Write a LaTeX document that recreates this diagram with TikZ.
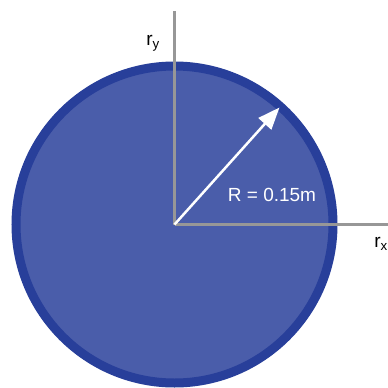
\documentclass[tikz,border=0pt]{standalone}
\usepackage{fontspec}
\setmainfont{Liberation Sans}
\usetikzlibrary{arrows.meta}
\definecolor{DiscFill}{HTML}{4A5DAA}
\definecolor{DiscRim}{HTML}{283F9A}
\definecolor{AxisGray}{HTML}{979797}

\begin{document}
\begin{tikzpicture}[
  x=1pt, y=-1pt,
  disc/.style={draw=DiscRim, fill=DiscFill, line width=9pt},
  axis/.style={draw=AxisGray, line width=2.2pt},
  radius arrow/.style={-{Triangle[length=22pt, width=17pt]}, line width=2.5pt, draw=white},
  axislabel/.style={font=\fontsize{19}{21}\selectfont, text=black, inner sep=0pt},
  valuelabel/.style={font=\fontsize{19}{21}\selectfont, text=white, inner sep=0pt}
]
\useasboundingbox (0,0) rectangle (388,388);
\coordinate (center) at (174.5,224.5);
\coordinate (ytop) at (174.5,11);
\coordinate (xend) at (388,224.5);
\coordinate (tip) at (279.5,107.5);
% disc with its rim
\draw[disc] (center) circle[radius=158.5];
% axes
\draw[axis] (center) -- (ytop);
\draw[axis] (center) -- (xend);
% radius
\draw[radius arrow] (center) -- (tip);
\node[valuelabel] (radiusvalue) at (272,195) {R = 0.15m};
\node[axislabel] (ylabel) at (153,43) {r\textsubscript{y}};
\node[axislabel] (xlabel) at (381,244) {r\textsubscript{x}};
\end{tikzpicture}
\end{document}
